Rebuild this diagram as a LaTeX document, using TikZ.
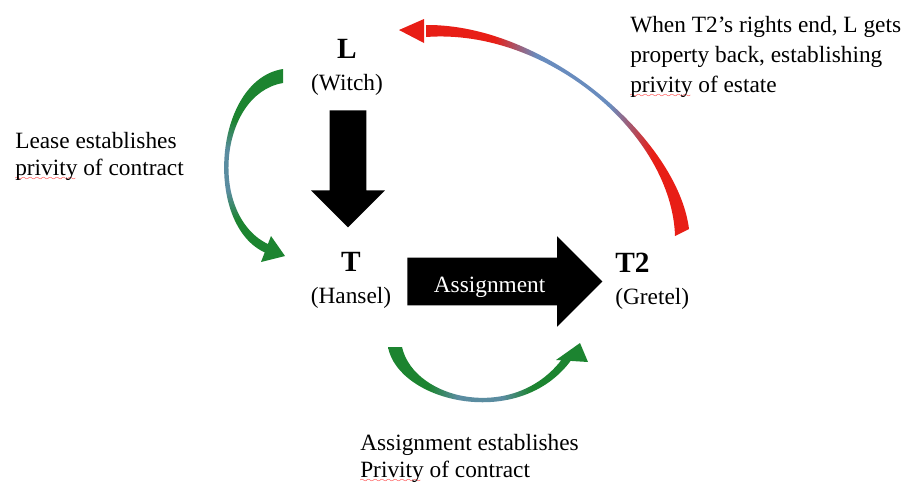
\documentclass[tikz,border=0pt]{standalone}
\usepackage{fontspec}
\setmainfont{Liberation Serif}
\usepackage{xcolor}
\usetikzlibrary{shapes.arrows}
\definecolor{leasegreen}{RGB}{28,132,48}
\definecolor{thinblue}{RGB}{105,140,190}
\definecolor{greenblue}{RGB}{90,140,160}
\definecolor{backred}{RGB}{232,30,22}
\pgfdeclareverticalshading{leasefade}{100bp}{color(0bp)=(leasegreen); color(34bp)=(leasegreen); color(42bp)=(greenblue); color(53bp)=(greenblue); color(61bp)=(leasegreen); color(100bp)=(leasegreen)}
\pgfdeclarehorizontalshading{assignfade}{100bp}{color(0bp)=(leasegreen); color(36bp)=(leasegreen); color(44bp)=(greenblue); color(56bp)=(greenblue); color(64bp)=(leasegreen); color(100bp)=(leasegreen)}
\pgfdeclarehorizontalshading{estatefade}{100bp}{color(0bp)=(backred); color(38bp)=(backred); color(46bp)=(thinblue); color(60bp)=(thinblue); color(68bp)=(backred); color(100bp)=(backred)}
\font\wavefont=lasy6
\newcommand\squiggle[1]{\setbox0\hbox{#1}\rlap{\lower4pt\hbox to \wd0{\color{red}\leaders\hbox{\wavefont\char58}\hfill}}\box0\relax}
\newcommand\who[1]{{\fontsize{22}{24}\selectfont\bfseries #1}}

\begin{document}
\begin{tikzpicture}[x=0.75pt,y=-0.75pt,
	party/.style={font=\fontsize{17.5}{24}\selectfont, inner sep=0pt},
	remark/.style={align=left, anchor=north west, inner sep=0pt},
	bigarrow/.style={single arrow, fill=black, single arrow tip angle=90, inner sep=0pt, anchor=tail}]
	\useasboundingbox (0,0) rectangle (917,486);

	\node [party, align=center] (L) at (347,67) {\who{L}\\(Witch)};
	\node [party, align=center] (T) at (351,280) {\who{T}\\(Hansel)};
	\node [party, align=left, anchor=west] (T2) at (615,281) {\who{T2}\\(Gretel)};

	\node [bigarrow, rotate=-90, minimum height=87.75pt, text height=27pt, text depth=0pt, single arrow head extend=13.9pt] (lease) at (348,110) {};
	\node [bigarrow, minimum height=146.25pt, text height=25.5pt, text depth=9.75pt, inner xsep=12pt, text width=88.5pt, align=left, single arrow head extend=16.1pt, text=white, font=\fontsize{17.5}{20}\selectfont] (assignment) at (407,281.5) {Assignment};

	\shade [shading=leasefade]
		(283,69) .. controls (213,80) and (203,226) .. (266,253) -- (270,245) .. controls (208,218) and (218,94) .. (283,83) -- cycle;
	\fill [leasegreen] (285,256) -- (271,236) -- (261,262) -- cycle;

	\shade [shading=assignfade]
		(388,347) .. controls (398,402) and (520,432) .. (572,359) -- (565,355) .. controls (518,424) and (414,401) .. (402,347) -- cycle;
	\fill [leasegreen] (580,343) -- (588,362) -- (556,360) -- cycle;

	\shade [shading=estatefade]
		(689,229) .. controls (678,140) and (546,24) .. (426,25) -- (426,37) .. controls (548,28) and (672,135) .. (675,236) -- cycle;
	\fill [backred] (399,30) -- (424,19) -- (424,43) -- cycle;

	\node [remark, font=\fontsize{17.5}{20.25}\selectfont] (lease note) at (15,132) {Lease establishes\\\squiggle{privity} of contract};
	\node [remark, font=\fontsize{17.5}{22.5}\selectfont] (estate note) at (630,16) {When T2's rights end, L gets\\property back, establishing\\\squiggle{privity} of estate};
	\node [remark, font=\fontsize{17.5}{20.25}\selectfont] (assignment note) at (360,434) {Assignment establishes\\\squiggle{Privity} of contract};
\end{tikzpicture}
\end{document}
